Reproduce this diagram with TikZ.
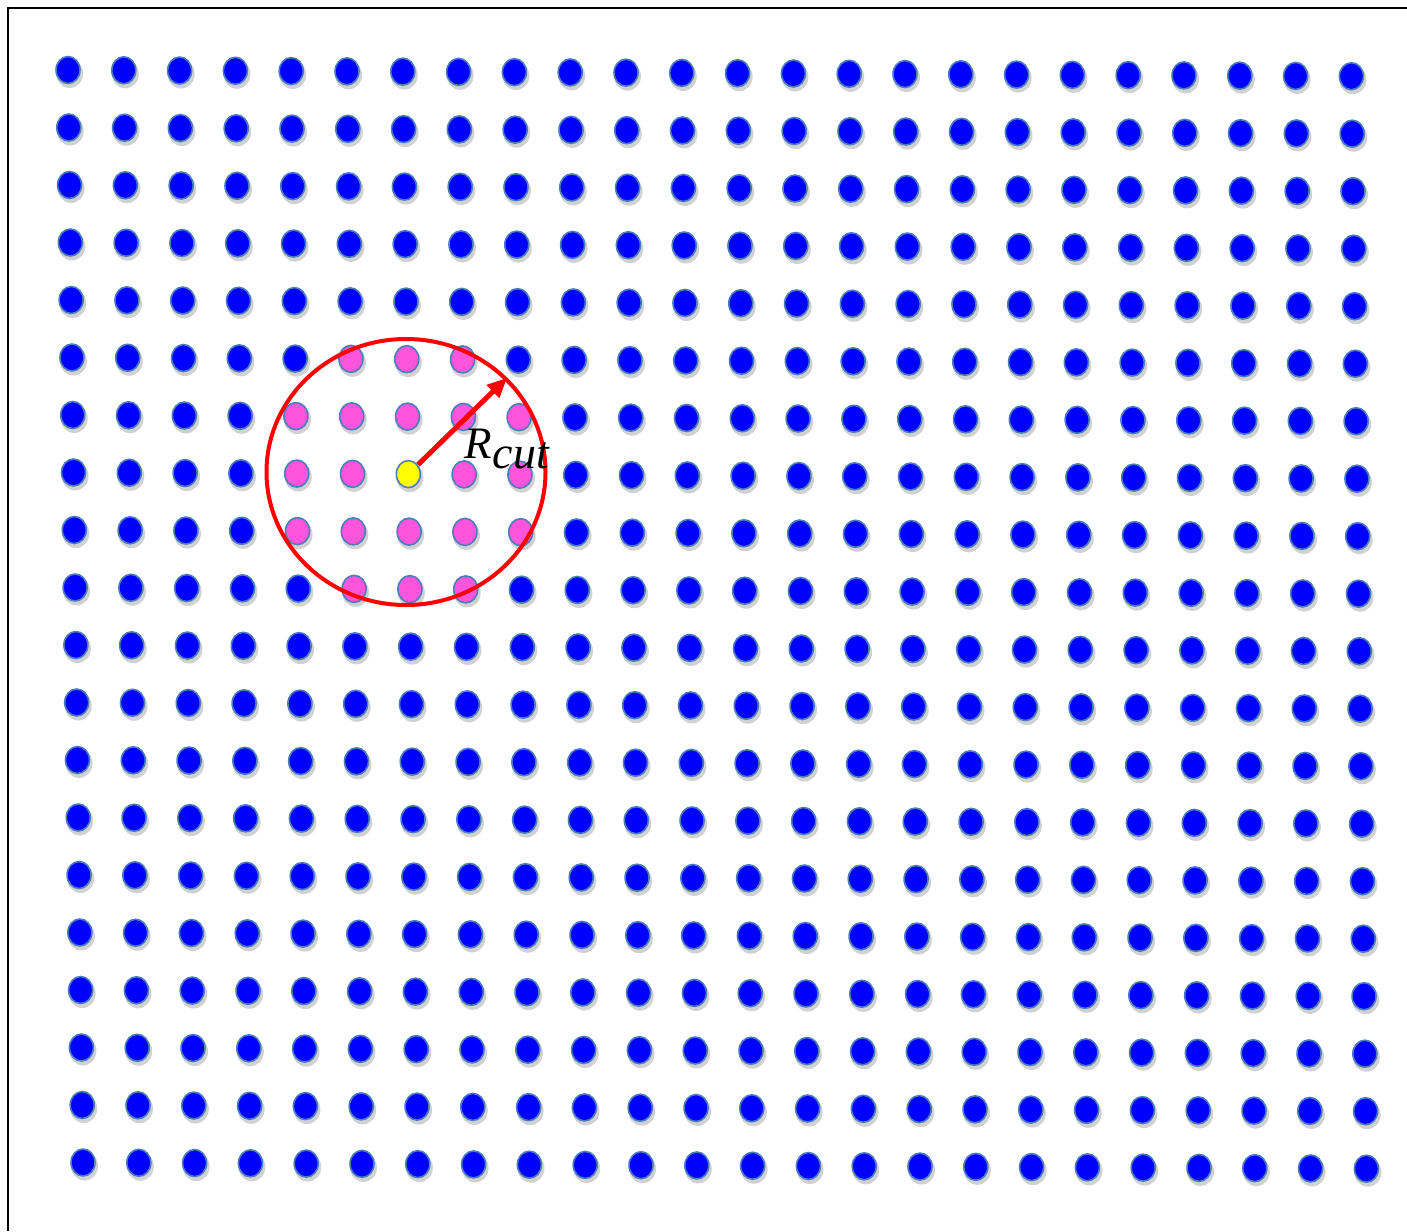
\documentclass[tikz,border=0pt]{standalone}
\usepackage{fontspec}
\newfontfamily\labfont{Liberation Serif}
\usetikzlibrary{shapes.geometric,arrows.meta}
\definecolor{dotblue}{RGB}{0,0,255}
\definecolor{dotedge}{RGB}{74,126,187}
\definecolor{pinkdot}{RGB}{255,85,221}
\definecolor{ydot}{RGB}{255,255,0}
\definecolor{cutred}{RGB}{255,0,0}
\tikzset{
  dotnode/.style={ellipse, minimum width=24pt, minimum height=27pt, inner sep=0pt,
    draw=dotedge, line width=1.6pt, fill=dotblue},
  pinknode/.style={dotnode, fill=pinkdot},
  centernode/.style={dotnode, fill=ydot},
  dotshade/.style={ellipse, minimum width=27pt, minimum height=29pt, inner sep=0pt,
    fill=black, opacity=0.18},
  cutcircle/.style={ellipse, draw=cutred, line width=4pt, minimum width=279pt,
    minimum height=266pt, inner sep=0pt},
  cutarrow/.style={cutred, line width=5pt, -{Triangle[length=20pt,width=17pt]}},
}
\begin{document}
\begin{tikzpicture}[x=1pt,y=-1pt]
\useasboundingbox (0,0) rectangle (1407,1231);
\fill[white] (0,0) rectangle (1407,1231);
\draw[line width=2.2pt] (8,1231) -- (8,8) -- (1407,8);
\foreach \r in {0,...,19}{
  \foreach \c in {0,...,23}{
    \pgfmathsetmacro\px{68+55.8*\c+0.79*\r}
    \pgfmathsetmacro\py{70+57.5*\r+0.27*\c}
    \pgfmathtruncatemacro\dr{abs(\r-7)}
    \pgfmathtruncatemacro\dc{abs(\c-6)}
    \pgfmathtruncatemacro\kind{ifthenelse(and(\dr==0,\dc==0),2,ifthenelse(or(and(\dr<2,\dc<3),and(\dr==2,\dc<2)),1,0))}
    \ifcase\kind \def\sty{dotnode}\or\def\sty{pinknode}\or\def\sty{centernode}\fi
    \node[dotshade] (s-\c-\r) at (\px+1.5,\py+3.5) {};
    \node[\sty] (d-\c-\r) at (\px,\py) {};
  }
}
\node[cutcircle] (cut) at (406,472) {};
\draw[cutarrow] (d-6-7) -- (cut.43);
\node[anchor=base west, inner sep=0pt] (lab) at (464,458)
  {\labfont\itshape\fontsize{45}{45}\selectfont R\kern1pt\raisebox{-10pt}{\fontsize{46}{46}\selectfont cut}};
\end{tikzpicture}
\end{document}
